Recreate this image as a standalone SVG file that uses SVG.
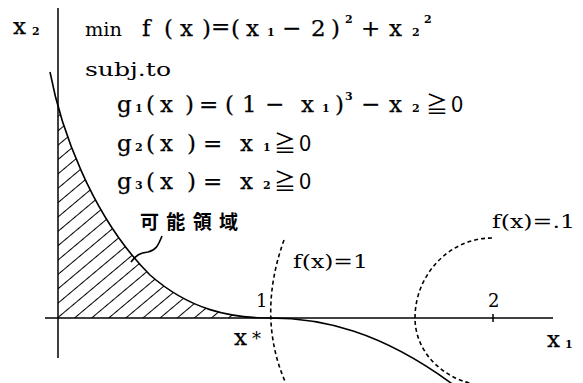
<svg xmlns="http://www.w3.org/2000/svg" width="583" height="383" viewBox="0 0 583 383">
<style>
.ax{stroke:#000;stroke-width:1.5;fill:none}
.cv{stroke:#000;stroke-width:1.6;fill:none}
.dash{stroke:#000;stroke-width:1.6;fill:none;stroke-dasharray:4 3}
.f{font-family:"DejaVu Serif","Liberation Serif",serif;font-size:23px;fill:#000;stroke:#000;stroke-width:0.25}
.s{font-family:"DejaVu Serif","Liberation Serif",serif;font-size:11px;fill:#000;font-weight:bold}
.m{font-family:"DejaVu Serif","Liberation Serif",serif;font-size:18px;fill:#000}
.ge{font-family:"Noto Sans CJK JP","DejaVu Sans",sans-serif;font-size:22px;fill:#000}
.jp{font-family:"Noto Sans CJK JP",sans-serif;font-size:19px;fill:#000;font-weight:bold}
</style>
<defs>
<pattern id="hatch" width="12" height="11" patternUnits="userSpaceOnUse" patternTransform="rotate(-40)">
<line x1="-1" y1="5.5" x2="13" y2="5.5" stroke="#000" stroke-width="1"/>
</pattern>
<clipPath id="region">
<path d="M50,72 C60,125 90,215 150,275 C190,310 230,318 270,318 L58,318 L58,72 Z"/>
</clipPath>
</defs>
<rect width="583" height="383" fill="#fff"/>

<g id="feasible-region">
<rect x="58" y="60" width="220" height="258" fill="url(#hatch)" clip-path="url(#region)"/>
</g>

<g id="axes">
<line class="ax" x1="58" y1="8" x2="58" y2="358"/>
<line class="ax" x1="45" y1="318" x2="553" y2="318"/>
<line class="ax" x1="493" y1="314" x2="493" y2="322" stroke-width="1"/>
<text class="f" x="13" y="34">x</text><text class="s" x="32" y="35">2</text>
<text class="f" x="547" y="347">x</text><text class="s" x="565" y="348">1</text>
<text class="f" x="234" y="345">x</text><text class="m" x="252" y="345" font-size="15">*</text>
<text class="m" x="256" y="307">1</text>
<text class="m" x="488" y="307" font-size="20">2</text>
</g>

<g id="curve-g1">
<path class="cv" d="M50,72 C60,125 90,215 150,275 C190,310 230,318 270,318 C320,318 380,330 455,386"/>
</g>

<g id="contour-f1">
<path class="dash" d="M284,240 Q256,318 287,386"/>
<text class="m" x="293" y="268" textLength="75" lengthAdjust="spacingAndGlyphs">f(x)=1</text>
</g>

<g id="contour-f01">
<path class="dash" d="M492,238 C450,238 415,274 415,318 C415,355 448,385 490,386"/>
<text class="m" x="492" y="228" textLength="83" lengthAdjust="spacingAndGlyphs">f(x)=.1</text>
</g>

<g id="label-feasible">
<text class="jp" x="140" y="229" textLength="98" lengthAdjust="spacing">可能領域</text>
</g>

<g id="connectors">
<path class="cv" stroke-width="1.1" d="M162,236 C158,246 156,250 148,252 C140,253 136,255 131,262"/>
</g>

<g id="formula">
<text class="m" x="85" y="36" font-size="19" textLength="37" lengthAdjust="spacingAndGlyphs">min</text>
<text class="f" y="36"><tspan x="142">f</tspan><tspan x="164">(</tspan><tspan x="180">x</tspan><tspan x="202">)</tspan></text>
<text class="f" x="211" y="34" font-size="14">=</text>
<text class="f" y="36"><tspan x="231">(</tspan><tspan x="246">x</tspan></text>
<text class="s" x="267" y="36">1</text>
<text class="f" y="36"><tspan x="282">−</tspan><tspan x="311">2</tspan><tspan x="331">)</tspan></text>
<text class="s" x="345" y="23">2</text>
<text class="f" y="36"><tspan x="361">+</tspan><tspan x="389">x</tspan></text>
<text class="s" x="412" y="36">2</text>
<text class="s" x="424" y="23">2</text>

<text class="m" x="85" y="76" font-size="19" textLength="86" lengthAdjust="spacingAndGlyphs">subj.to</text>

<text class="f" y="112"><tspan x="117">g</tspan></text>
<text class="s" x="135" y="112">1</text>
<text class="f" y="112"><tspan x="146">(</tspan><tspan x="160">x</tspan><tspan x="185">)</tspan><tspan x="199">=</tspan><tspan x="225">(</tspan><tspan x="242">1</tspan><tspan x="265">−</tspan><tspan x="301">x</tspan></text>
<text class="s" x="322" y="112">1</text>
<text class="f" y="112"><tspan x="335">)</tspan></text>
<text class="s" x="345" y="100">3</text>
<text class="f" y="112"><tspan x="361">−</tspan><tspan x="389">x</tspan></text>
<text class="s" x="412" y="112">2</text>
<text class="ge" x="426" y="112">≧</text>
<text class="ge" x="451" y="112">0</text>

<text class="f" y="151"><tspan x="117">g</tspan></text>
<text class="s" x="135" y="151">2</text>
<text class="f" y="151"><tspan x="146">(</tspan><tspan x="160">x</tspan><tspan x="187">)</tspan><tspan x="203">=</tspan><tspan x="240">x</tspan></text>
<text class="s" x="263" y="151">1</text>
<text class="ge" x="274" y="151">≧</text>
<text class="ge" x="299" y="151">0</text>

<text class="f" y="189"><tspan x="117">g</tspan></text>
<text class="s" x="135" y="189">3</text>
<text class="f" y="189"><tspan x="146">(</tspan><tspan x="160">x</tspan><tspan x="187">)</tspan><tspan x="203">=</tspan><tspan x="240">x</tspan></text>
<text class="s" x="263" y="189">2</text>
<text class="ge" x="274" y="189">≧</text>
<text class="ge" x="299" y="189">0</text>
</g>
</svg>
